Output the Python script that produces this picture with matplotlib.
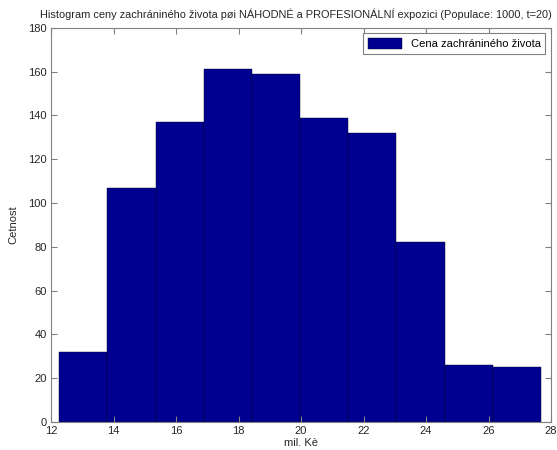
import numpy as np
from matplotlib import pyplot as plt

# hranice tříd a četnosti
x_min = 12.26
x_max = 27.68
counts = [32, 107, 137, 161, 159, 139, 132, 82, 26, 25]
x_ticks = [12, 14, 16, 18, 20, 22, 24, 26, 28]
y_ticks = [0, 20, 40, 60, 80, 100, 120, 140, 160, 180]

edges = np.linspace(x_min, x_max, len(counts) + 1)
widths = np.diff(edges)

plt.rcParams["font.family"] = ['Liberation Sans', 'DejaVu Sans']
plt.rcParams["font.size"] = 8

fig = plt.figure(figsize=(5.57, 4.5), dpi=100)
ax = fig.add_axes([51 / 557, 1 - 422 / 450, 500 / 557, (422 - 27.7) / 450])

ax.bar(edges[:-1], counts, width=widths, align='edge', color='#000090',
       edgecolor='#000020', linewidth=0.3, label='Cena zachrániného života')

ax.set_xlim(12, 28)
ax.set_ylim(0, 180)
ax.set_xticks(x_ticks)
ax.set_yticks(y_ticks)
ax.tick_params(direction='in', top=True, right=True, length=4,
               color='#808080', labelcolor='#262626', labelsize=8, pad=3)
for s in ax.spines.values():
    s.set_color('#808080')
    s.set_linewidth(0.8)

fig.text(296 / 557, 1 - 14 / 450,
         'Histogram ceny zachrániného života pøi NÁHODNÉ a PROFESIONÁLNÍ expozici (Populace: 1000, t=20)',
         fontsize=7.95, color='#262626', ha='center', va='center')
ax.set_xlabel('mil. Kè', color='#262626', labelpad=1)
ax.set_ylabel('Cetnost', color='#262626', labelpad=7)

leg = ax.legend(loc='upper right', fancybox=False, framealpha=1,
                edgecolor='#808080', handlelength=3.1, handleheight=1.2,
                borderpad=0.4, borderaxespad=0.5, fontsize=8)
leg.get_frame().set_linewidth(0.8)

plt.savefig('out.png', dpi=100)
plt.close()
